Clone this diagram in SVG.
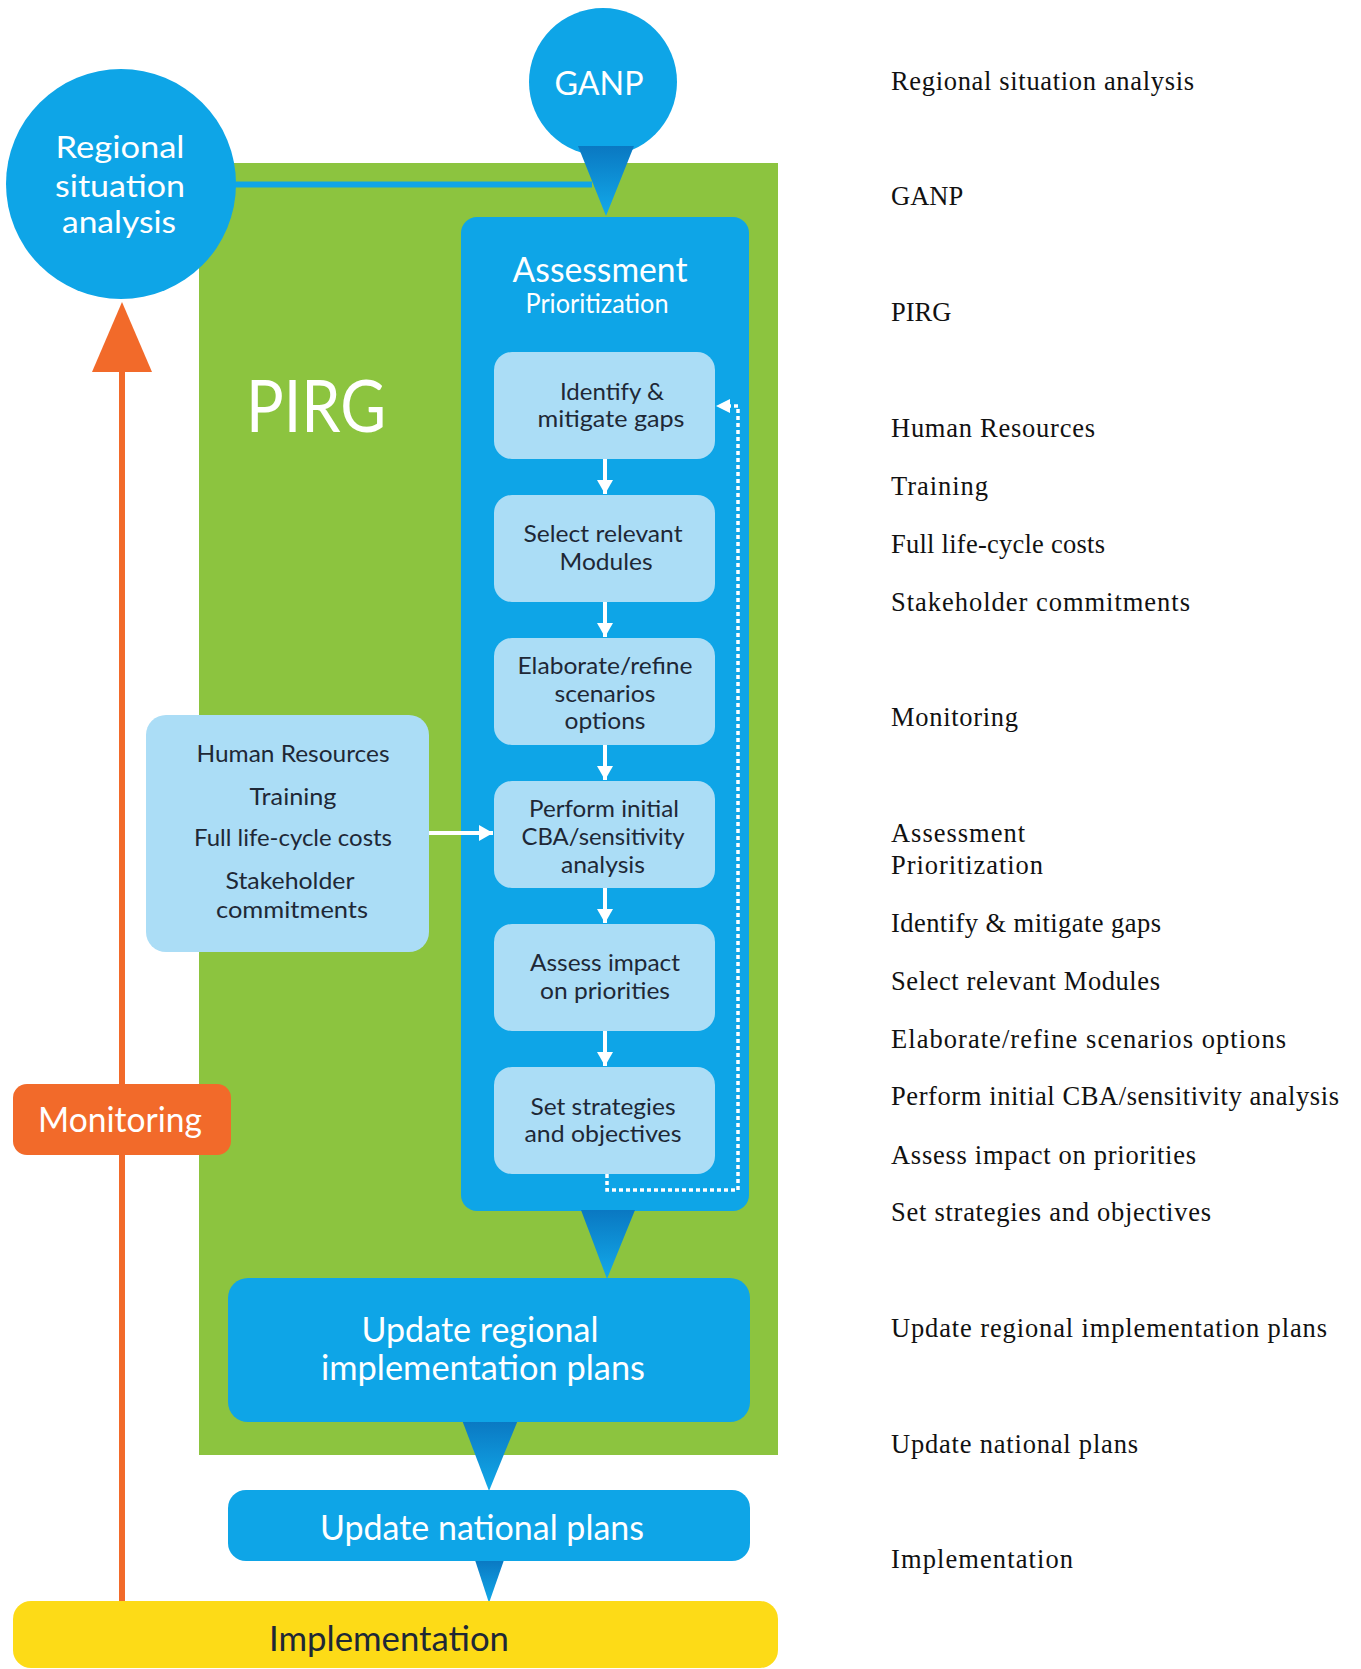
<svg xmlns="http://www.w3.org/2000/svg" width="1361" height="1669" viewBox="0 0 1361 1669">
<style>
.blue{fill:#0ea5e7}
.light{fill:#abddf6}
.lbl{font-family:Lato,"Open Sans",sans-serif;fill:#1e2836;font-size:23.5px;text-anchor:middle}
.big{font-family:Lato,"Open Sans",sans-serif;fill:#1e2836;font-size:35px;text-anchor:middle}
.wlbl{font-family:Lato,"Open Sans",sans-serif;fill:#ffffff;text-anchor:middle}
.side{font-family:"Liberation Serif","Times New Roman",serif;font-size:26.5px;fill:#111111}
</style>
<defs>
<linearGradient id="ptr" x1="0" y1="0" x2="0" y2="1">
<stop offset="0" stop-color="#0a78c2"/>
<stop offset="1" stop-color="#12aaea"/>
</linearGradient>
<marker id="whs" markerUnits="userSpaceOnUse" markerWidth="16" markerHeight="16" viewBox="0 0 16 16" refX="14" refY="8" orient="auto">
<path d="M0,0 L14,8 L0,16 z" fill="#ffffff"/>
</marker>
</defs>
<rect width="1361" height="1669" fill="#ffffff"/>

<g id="pirg">
<rect x="199" y="163" width="579" height="1292" fill="#8cc43f"/>
<text class="wlbl" x="316" y="432" font-size="72" textLength="140" lengthAdjust="spacingAndGlyphs">PIRG</text>
</g>

<g id="regional">
<circle cx="121" cy="184" r="115" class="blue"/>
<text class="wlbl" x="120" y="158" font-size="31" textLength="129" lengthAdjust="spacingAndGlyphs">Regional</text>
<text class="wlbl" x="120" y="197" font-size="31" textLength="130" lengthAdjust="spacingAndGlyphs">situation</text>
<text class="wlbl" x="119" y="233" font-size="31" textLength="114" lengthAdjust="spacingAndGlyphs">analysis</text>
</g>

<g id="ganp">
<circle cx="603" cy="82" r="74" class="blue"/>
<text class="wlbl" x="599" y="95" font-size="33" textLength="89" lengthAdjust="spacingAndGlyphs">GANP</text>
</g>

<g id="assessment">
<rect x="461" y="217" width="288" height="994" rx="16" class="blue"/>
<text class="wlbl" x="600" y="282" font-size="34" textLength="175" lengthAdjust="spacingAndGlyphs">Assessment</text>
<text class="wlbl" x="597" y="313" font-size="26" textLength="143" lengthAdjust="spacingAndGlyphs">Prioritization</text>
</g>

<g id="identify">
<rect x="494" y="352" width="221" height="107" rx="18" class="light"/>
<text class="lbl" x="612" y="400" textLength="104" lengthAdjust="spacingAndGlyphs">Identify &amp;</text>
<text class="lbl" x="611" y="427" textLength="147" lengthAdjust="spacingAndGlyphs">mitigate gaps</text>
</g>
<g id="select">
<rect x="494" y="495" width="221" height="107" rx="18" class="light"/>
<text class="lbl" x="603" y="542" textLength="159" lengthAdjust="spacingAndGlyphs">Select relevant</text>
<text class="lbl" x="606" y="570" textLength="93" lengthAdjust="spacingAndGlyphs">Modules</text>
</g>
<g id="elaborate">
<rect x="494" y="638" width="221" height="107" rx="18" class="light"/>
<text class="lbl" x="605" y="674" textLength="175" lengthAdjust="spacingAndGlyphs">Elaborate/refine</text>
<text class="lbl" x="605" y="702" textLength="101" lengthAdjust="spacingAndGlyphs">scenarios</text>
<text class="lbl" x="605" y="729" textLength="81" lengthAdjust="spacingAndGlyphs">options</text>
</g>
<g id="perform">
<rect x="494" y="781" width="221" height="107" rx="18" class="light"/>
<text class="lbl" x="604" y="817" textLength="150" lengthAdjust="spacingAndGlyphs">Perform initial</text>
<text class="lbl" x="603" y="845" textLength="163" lengthAdjust="spacingAndGlyphs">CBA/sensitivity</text>
<text class="lbl" x="603" y="873" textLength="84" lengthAdjust="spacingAndGlyphs">analysis</text>
</g>
<g id="assess">
<rect x="494" y="924" width="221" height="107" rx="18" class="light"/>
<text class="lbl" x="605" y="971" textLength="150" lengthAdjust="spacingAndGlyphs">Assess impact</text>
<text class="lbl" x="605" y="999" textLength="130" lengthAdjust="spacingAndGlyphs">on priorities</text>
</g>
<g id="setstrat">
<rect x="494" y="1067" width="221" height="107" rx="18" class="light"/>
<text class="lbl" x="603" y="1115" textLength="145" lengthAdjust="spacingAndGlyphs">Set strategies</text>
<text class="lbl" x="603" y="1142" textLength="157" lengthAdjust="spacingAndGlyphs">and objectives</text>
</g>

<g id="resources">
<rect x="146" y="715" width="283" height="237" rx="20" class="light"/>
<text class="lbl" x="293" y="762" textLength="193" lengthAdjust="spacingAndGlyphs">Human Resources</text>
<text class="lbl" x="293" y="805" textLength="87" lengthAdjust="spacingAndGlyphs">Training</text>
<text class="lbl" x="293" y="846" textLength="198" lengthAdjust="spacingAndGlyphs">Full life-cycle costs</text>
<text class="lbl" x="290" y="889" textLength="129" lengthAdjust="spacingAndGlyphs">Stakeholder</text>
<text class="lbl" x="292" y="918" textLength="152" lengthAdjust="spacingAndGlyphs">commitments</text>
</g>

<g id="connectors">
<line x1="234" y1="184.5" x2="592" y2="184.5" stroke="#0ea5e7" stroke-width="6"/>
<path d="M578,146 L634,146 L606,216 z" fill="url(#ptr)"/>
<path d="M581,1210 L635,1210 L607,1279 z" fill="url(#ptr)"/>
<path d="M462,1420 L518,1420 L489,1491 z" fill="url(#ptr)"/>
<path d="M475,1560 L504,1560 L489,1603 z" fill="url(#ptr)"/>
<line x1="122" y1="1601" x2="122" y2="360" stroke="#f26a2a" stroke-width="6"/>
<path d="M92,372 L152,372 L122,302 z" fill="#f26a2a"/>
<g stroke="#ffffff" stroke-width="4" fill="none">
<line x1="605" y1="459" x2="605" y2="494" marker-end="url(#whs)"/>
<line x1="605" y1="602" x2="605" y2="637" marker-end="url(#whs)"/>
<line x1="605" y1="745" x2="605" y2="780" marker-end="url(#whs)"/>
<line x1="605" y1="888" x2="605" y2="923" marker-end="url(#whs)"/>
<line x1="605" y1="1031" x2="605" y2="1066" marker-end="url(#whs)"/>
<line x1="429" y1="833" x2="493" y2="833" marker-end="url(#whs)"/>
</g>
<path d="M607,1174 V1190 H738 V406 H726" fill="none" stroke="#ffffff" stroke-width="3.5" stroke-dasharray="4 3"/>
<path d="M716,406 L730,399 L730,413 z" fill="#ffffff"/>
</g>

<g id="monitoring">
<rect x="13" y="1084" width="218" height="71" rx="14" fill="#f26a2a"/>
<text class="wlbl" x="120" y="1132" font-size="34" textLength="164" lengthAdjust="spacingAndGlyphs">Monitoring</text>
</g>

<g id="update-regional">
<rect x="228" y="1278" width="522" height="144" rx="20" class="blue"/>
<text class="wlbl" x="480" y="1342" font-size="35" textLength="237" lengthAdjust="spacingAndGlyphs">Update regional</text>
<text class="wlbl" x="483" y="1380" font-size="35" textLength="324" lengthAdjust="spacingAndGlyphs">implementation plans</text>
</g>

<g id="update-national">
<rect x="228" y="1490" width="522" height="71" rx="18" class="blue"/>
<text class="wlbl" x="482" y="1540" font-size="35" textLength="324" lengthAdjust="spacingAndGlyphs">Update national plans</text>
</g>

<g id="implementation">
<rect x="13" y="1601" width="765" height="67" rx="18" fill="#fddb17"/>
<text class="big" x="389" y="1651" textLength="240" lengthAdjust="spacingAndGlyphs">Implementation</text>
</g>

<g id="legend">
<text class="side" x="891" y="90" textLength="303">Regional situation analysis</text>
<text class="side" x="891" y="205">GANP</text>
<text class="side" x="891" y="321">PIRG</text>
<text class="side" x="891" y="437" textLength="204">Human Resources</text>
<text class="side" x="891" y="495" textLength="97">Training</text>
<text class="side" x="891" y="553" textLength="214">Full life-cycle costs</text>
<text class="side" x="891" y="611" textLength="299">Stakeholder commitments</text>
<text class="side" x="891" y="726" textLength="127">Monitoring</text>
<text class="side" x="891" y="842" textLength="134">Assessment</text>
<text class="side" x="891" y="874" textLength="152">Prioritization</text>
<text class="side" x="891" y="932" textLength="270">Identify &amp; mitigate gaps</text>
<text class="side" x="891" y="990" textLength="269">Select relevant Modules</text>
<text class="side" x="891" y="1048" textLength="395">Elaborate/refine scenarios options</text>
<text class="side" x="891" y="1105" textLength="448">Perform initial CBA/sensitivity analysis</text>
<text class="side" x="891" y="1164" textLength="305">Assess impact on priorities</text>
<text class="side" x="891" y="1221" textLength="320">Set strategies and objectives</text>
<text class="side" x="891" y="1337" textLength="436">Update regional implementation plans</text>
<text class="side" x="891" y="1453" textLength="247">Update national plans</text>
<text class="side" x="891" y="1568" textLength="182">Implementation</text>
</g>
</svg>
